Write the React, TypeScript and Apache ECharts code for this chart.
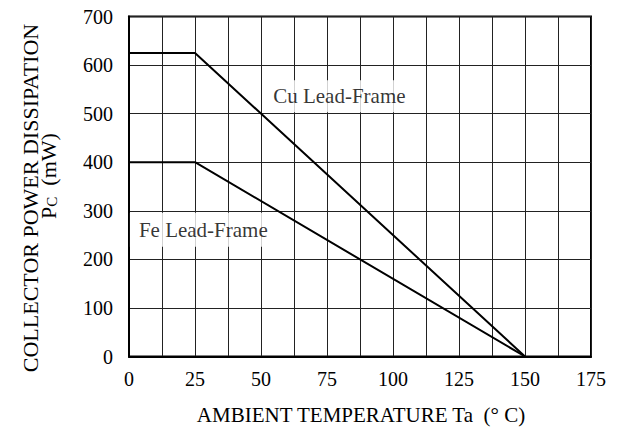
import React, { useEffect, useRef } from "react";
import * as echarts from "echarts";

const cuSeries: [number, number][] = [[0, 625], [25, 625], [150, 0]];
const feSeries: [number, number][] = [[0, 400], [25, 400], [150, 0]];
const cuLabel = "Cu Lead-Frame";
const feLabel = "Fe Lead-Frame";
const cuLabelAt: [number, number] = [81.4, 536];
const feLabelAt: [number, number] = [31.0, 261];
const xTitle = "AMBIENT TEMPERATURE Ta  (\u00B0 C)";
const yTitle1 = "COLLECTOR POWER DISSIPATION";

const FONT = "'Liberation Serif', 'Times New Roman', serif";

export default function App() {
  const ref = useRef<HTMLDivElement>(null);
  useEffect(() => {
    if (!ref.current) return;
    const chart = echarts.init(ref.current, undefined, { renderer: "svg" });
    const labelStyle = (text: string, padding: number[]) => ({
      show: true,
      position: "inside",
      formatter: text,
      color: "#000",
      fontFamily: FONT,
      fontSize: 21,
      backgroundColor: "#fff",
      padding,
    });
    chart.setOption({
      animation: false,
      backgroundColor: "#fff",
      grid: {
        left: 129,
        right: 32,
        top: 16.5,
        bottom: 82.5,
        show: true,
        borderColor: "#000",
        borderWidth: 2,
      },
      xAxis: {
        type: "value",
        min: 0,
        max: 175,
        interval: 12.5,
        axisLine: { show: true, lineStyle: { color: "#000", width: 2 } },
        axisTick: { show: false },
        splitLine: { show: true, lineStyle: { color: "#222", width: 1 } },
        axisLabel: {
          color: "#000",
          fontFamily: FONT,
          fontSize: 20,
          margin: 12,
          formatter: (v: number) => (v % 25 === 0 ? String(v) : ""),
        },
      },
      yAxis: {
        type: "value",
        min: 0,
        max: 700,
        interval: 100,
        axisLine: { show: true, lineStyle: { color: "#000", width: 2 } },
        axisTick: { show: false },
        splitLine: { show: true, lineStyle: { color: "#222", width: 1 } },
        axisLabel: { color: "#000", fontFamily: FONT, fontSize: 20, margin: 16 },
      },
      series: [
        {
          type: "scatter",
          data: [
            { value: cuLabelAt, label: labelStyle(cuLabel, [6, 20, 5, 11]) },
            { value: feLabelAt, label: labelStyle(feLabel, [7, 24, 6, 9]) },
          ],
          symbolSize: 0,
          silent: true,
          z: 1,
        },
        {
          type: "line",
          data: cuSeries,
          symbol: "none",
          lineStyle: { color: "#000", width: 2 },
          z: 3,
        },
        {
          type: "line",
          data: feSeries,
          symbol: "none",
          lineStyle: { color: "#000", width: 2 },
          z: 3,
        },
      ],
      graphic: [
        {
          type: "text",
          x: 361,
          y: 415,
          style: {
            text: xTitle,
            fontFamily: FONT,
            fontSize: 21,
            fill: "#000",
            align: "center",
            verticalAlign: "middle",
          },
        },
        {
          type: "text",
          x: 30,
          y: 198,
          rotation: Math.PI / 2,
          style: {
            text: yTitle1,
            fontFamily: FONT,
            fontSize: 22,
            fill: "#000",
            align: "center",
            verticalAlign: "middle",
          },
        },
        {
          type: "text",
          x: 48,
          y: 176,
          rotation: Math.PI / 2,
          style: {
            text: "{a|P}{b|C}{a|  (mW)}",
            fontFamily: FONT,
            fill: "#000",
            align: "center",
            verticalAlign: "middle",
            rich: {
              a: { fontFamily: FONT, fontSize: 22, fill: "#000" },
              b: { fontFamily: FONT, fontSize: 15, fill: "#000", verticalAlign: "bottom", padding: [8, 0, 0, 0] },
            },
          },
        },
      ],
    });
    return () => chart.dispose();
  }, []);
  return (
    <div
      ref={ref}
      style={{ position: "fixed", left: 0, top: 0, width: 623, height: 439 }}
    />
  );
}
